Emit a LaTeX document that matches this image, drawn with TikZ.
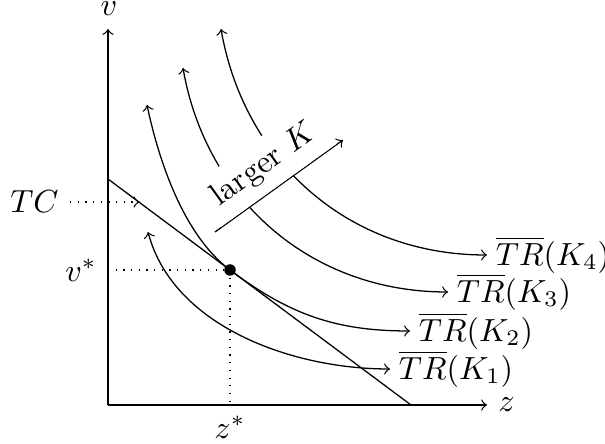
\documentclass[tikz,border=0pt]{standalone}
\usetikzlibrary{calc}
\begin{document}
\begin{tikzpicture}[x=0.3125pt,y=0.3125pt,>=to,
  curve/.style={<->},
  guide/.style={dotted},
  lab/.style={inner sep=3.333pt},
  trlab/.style={right,inner xsep=2.6pt,inner ysep=3.333pt}]
\useasboundingbox (0,0) rectangle (605,444);
% axes
\coordinate (O) at (108,39);
\coordinate (ytop) at (108,415);
\coordinate (xend) at (487,39);
\draw[->] (O) -- (ytop);
\draw[->] (O) -- (xend);
\node[inner sep=0pt] (vlab) at (109,435) {$v$};
\node[right,lab] (zlab) at (xend) {$z$};
% budget line
\coordinate (b1) at (108,265);
\coordinate (b2) at (411,39);
\draw (b1) -- (b2);
% curve end points
\coordinate (k1s) at (148,212);
\coordinate (k1e) at (390,75);
\coordinate (k2s) at (147,339);
\coordinate (E) at (230,174);
\coordinate (k2e) at (410,113);
\coordinate (k3s) at (183,376);
\coordinate (k3e) at (448,152);
\coordinate (k4s) at (221,415);
\coordinate (k4e) at (487,189);
% curves
\draw[curve] (k1s) to[out=-75,in=180,looseness=0.9] (k1e);
\draw[<-] (k2s) to[out=-78,in=143.13,looseness=0.8] (E);
\draw[->] (E) to[out=-36.87,in=180] (k2e);
\draw[curve] (k3s) to[out=-80,in=180] (k3e);
\draw[curve] (k4s) to[out=-80,in=180] (k4e);
% larger K arrow
\coordinate (ka) at (215,212);
\coordinate (kb) at (343,304);
\draw[->] (ka) -- (kb) node[midway,above,sloped,fill=white,lab] (larger) {larger $K$};
% guides
\coordinate (tcs) at (70,242);
\coordinate (tce) at (139.4,242);
\coordinate (vs) at (108,174);
\coordinate (zs) at (230,39);
\draw[guide,->] (tcs) -- (tce);
\draw[guide] (vs) -- (E);
\draw[guide] (E) -- (zs);
\node[left,lab] (tclab) at (tcs) {$TC$};
\node[left,lab] (vstar) at (vs) {$v^*$};
\node[below,lab] (zstar) at (zs) {$z^*$};
% dot
\node[circle,fill=black,inner sep=0pt,minimum size=3.6pt] (dot) at (E) {};
% curve labels
\node[trlab] (tr1) at (k1e) {$\overline{TR}(K_1)$};
\node[trlab] (tr2) at (k2e) {$\overline{TR}(K_2)$};
\node[trlab] (tr3) at (k3e) {$\overline{TR}(K_3)$};
\node[trlab] (tr4) at (k4e) {$\overline{TR}(K_4)$};
\end{tikzpicture}
\end{document}
